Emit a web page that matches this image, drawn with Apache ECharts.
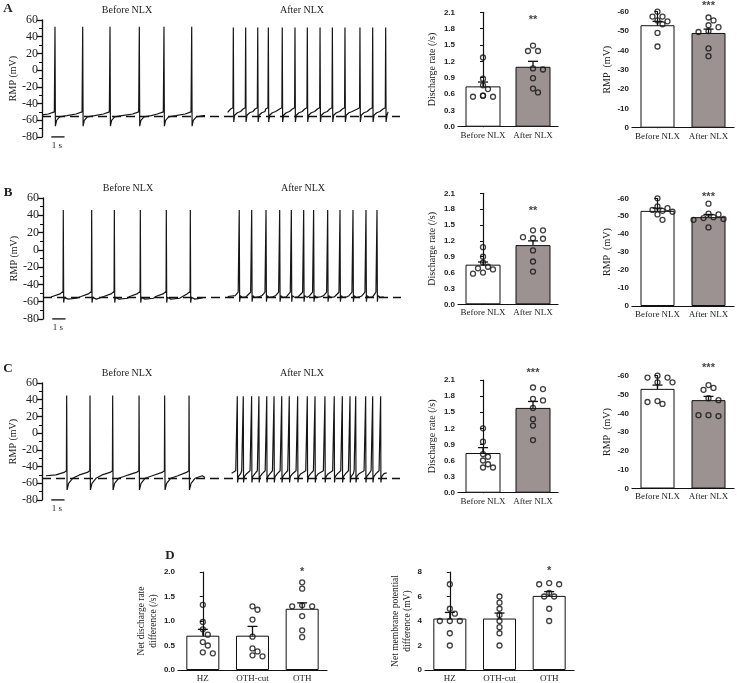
<!DOCTYPE html>
<html>
<head>
<meta charset="utf-8">
<script src="https://cdn.jsdelivr.net/npm/echarts@6/dist/echarts.min.js"></script>
<style>
  html, body { margin: 0; padding: 0; background: #fff; }
  #main { width: 737px; height: 683px; }
</style>
</head>
<body>
<div id="main"></div>
<script>
// ---------- recordings ----------
// spike times in seconds
const spikesA_before = [0.98, 3.07, 5.13, 7.34, 9.2, 11.29];
const spikesA_after = [14.43, 15.36, 16.27, 17.07, 18.12, 19.08, 20.01, 20.97, 21.9, 22.85, 23.98, 24.94, 25.92];
const spikesB_before = [1.53, 3.67, 5.38, 7.34, 9.3, 11.11];
const spikesB_after = [14.8, 15.74, 16.82, 17.85, 18.73, 19.66, 20.41, 21.47, 22.4, 23.38, 24.36, 25.19];
const spikesC_before = [1.86, 3.62, 5.33, 7.32, 9.25, 11.09];
const spikesC_after = [14.73, 15.18, 15.81, 16.36, 16.95, 17.5, 18.08, 18.65, 19.28, 20.01, 20.59,
  21.34, 22.04, 22.65, 23.23, 23.66, 24.41, 24.94, 25.54];

// recording window: [start s, end s, mV at start, mV at end]
const winA_before = [0, 12.3, -53.5, -54.5];
const winA_after = [14.0, 26.1, -50.5, -50];
const winB_before = [0.6, 12.04, -54.5, -55.5];
const winB_after = [13.93, 25.7, -54, -54.5];
const winC_before = [0.3, 12.3, -51, -53];
const winC_after = [14.3, 26.0, -48, -47.5];

// spike waveform: [time from spike s, mV]
const waveA_before = [[-0.5, -52.5], [-0.05, -50], [0, 52], [0.03, -67], [0.12, -60], [0.35, -56], [0.9, -54.5]];
const waveA_after = [[-0.2, -46.5], [-0.03, -45], [0, 51], [0.03, -62], [0.1, -54], [0.3, -51], [0.55, -49.5]];
const waveB_before = [[-0.8, -54], [-0.25, -51], [-0.02, -48], [0, 46], [0.03, -61], [0.08, -55], [0.35, -57], [1.0, -56]];
const waveB_after = [[-0.3, -53], [-0.08, -49], [0, 46], [0.03, -60], [0.08, -53], [0.25, -55], [0.5, -54.5]];
const waveC_before = [[-0.8, -50], [-0.2, -47], [-0.02, -45], [0, 45], [0.03, -68], [0.15, -60], [0.45, -54], [1.0, -51]];
const waveC_after = [[-0.12, -45], [-0.02, -44], [0, 44], [0.02, -59], [0.08, -52], [0.25, -48.5], [0.4, -47]];

const restLevel = [-55, -54.8, -53.6]; // dashed line, mV
const scaleBarSec = [0.7, 1.7];        // 1 s bar

// ---------- group data ----------
const groupsNLX = ['Before NLX', 'After NLX'];
const groupsD = ['HZ', 'OTH-cut', 'OTH'];

const rateA_mean = [0.74, 1.1], rateA_err = [0.82, 1.2];
const rateA_pts = [[1.27, 0.88, 0.76, 0.69, 0.57, 0.55, 0.55, 0.57], [1.49, 1.39, 1.39, 1.07, 1.05, 0.89, 0.7, 0.63]];
const rateA_sig = ['', '**'], rateA_sigAt = 1.96;
const rmpA_mean = [-53, -49], rmpA_err = [-55, -51];
const rmpA_pts = [[-60, -57.5, -57.5, -55.5, -55, -53.5, -49, -42], [-57, -55.5, -53, -52, -50, -49.5, -41, -37]];
const rmpA_sig = ['', '***'], rmpA_sigAt = -63;

const rateB_mean = [0.75, 1.12], rateB_err = [0.8, 1.2];
const rateB_pts = [[1.08, 0.9, 0.79, 0.71, 0.68, 0.66, 0.6, 0.58], [1.4, 1.4, 1.25, 1.24, 1.27, 1.02, 0.81, 0.62]];
const rateB_sig = ['', '**'], rateB_sigAt = 1.77;
const rmpB_mean = [-53, -49.5], rmpB_err = [-54.5, -51];
const rmpB_pts = [[-60, -55.5, -54.5, -53.5, -53, -52.5, -51, -48], [-57, -51.5, -51, -49.5, -49, -48.5, -48, -43.8]];
const rmpB_sig = ['', '***'], rmpB_sigAt = -61;

const rateC_mean = [0.74, 1.58], rateC_err = [0.84, 1.7];
const rateC_pts = [[1.2, 0.95, 0.72, 0.67, 0.6, 0.53, 0.47, 0.47], [1.96, 1.93, 1.75, 1.72, 1.58, 1.37, 1.25, 0.98]];
const rateC_sig = ['', '***'], rateC_sigAt = 2.24;
const rmpC_mean = [-53, -47], rmpC_err = [-55, -49];
const rmpC_pts = [[-60, -59, -59, -56.5, -56.5, -46.5, -45, -46], [-55, -53.5, -52.5, -48, -47, -39, -38.5, -39]];
const rmpC_sig = ['', '***'], rmpC_sigAt = -64;

const netRate_mean = [0.7, 0.7, 1.25], netRate_err = [0.83, 0.89, 1.37];
const netRate_pts = [[1.33, 0.98, 0.83, 0.72, 0.57, 0.5, 0.36, 0.34], [1.3, 1.23, 1.03, 0.68, 0.44, 0.38, 0.3, 0.28],
  [1.79, 1.66, 1.32, 1.3, 1.3, 1.1, 0.81, 0.67]];
const netRate_sig = ['', '', '*'], netRate_sigAt = 2.0;
const netRmp_mean = [4.2, 4.2, 6.05], netRmp_err = [4.7, 4.65, 6.4];
const netRmp_pts = [[7, 5, 4.6, 4, 4, 4, 3, 2], [6, 5.5, 5, 4.5, 4, 3.5, 3, 2], [7.1, 7, 7, 6.3, 6, 6, 5, 4]];
const netRmp_sig = ['', '', '*'], netRmp_sigAt = 8.1;

// ---------- builders ----------
const serif = 'Liberation Serif';
const sans = 'Liberation Sans';
const ink = '#111';
const grids = [], xAxes = [], yAxes = [], series = [], graphics = [];

function buildTrace(win, spikes, wave) {
  const pts = [[win[0], win[2]]];
  spikes.forEach((t, i) => {
    const next = i < spikes.length - 1 ? spikes[i + 1] : Infinity;
    wave.forEach(([dt, v]) => {
      const x = t + dt;
      if (dt > 0 && x >= next + wave[0][0]) return;
      if (x <= win[0] || x >= win[1]) return;
      pts.push([x, v]);
    });
  });
  pts.push([win[1], win[3]]);
  return pts;
}

function text(x, y, str, font, align) {
  graphics.push({ type: 'text', x, y, silent: true,
    style: { text: str, font, fill: '#222', textAlign: align || 'center', textVerticalAlign: 'middle' } });
}

function addTrace(t) {
  const gi = grids.length;
  grids.push({ left: t.left, top: t.top, width: 358, height: t.height });
  xAxes.push({ type: 'value', gridIndex: gi, min: 0, max: 27, show: false });
  yAxes.push({
    type: 'value', gridIndex: gi, min: -80, max: 60, interval: 20,
    name: 'RMP (mV)', nameLocation: 'middle', nameGap: 24,
    nameTextStyle: { fontFamily: serif, fontSize: 10, color: '#222' },
    axisLine: { show: true, lineStyle: { color: ink, width: 1.3 } },
    axisTick: { show: true, length: 5, lineStyle: { color: ink, width: 1.3 } },
    minorTick: { show: true, splitNumber: 2, length: 3, lineStyle: { color: ink, width: 1 } },
    splitLine: { show: false },
    axisLabel: { fontFamily: serif, fontSize: 12, color: '#222', margin: 4 }
  });
  t.segments.forEach((seg, k) => {
    series.push({
      type: 'line', xAxisIndex: gi, yAxisIndex: gi, data: buildTrace(seg[0], seg[1], seg[2]),
      showSymbol: false, symbol: 'none', silent: true, animation: false,
      lineStyle: { color: '#161616', width: 1.2 },
      markLine: k === 0 ? {
        silent: true, symbol: 'none', label: { show: false }, animation: false,
        lineStyle: { color: ink, width: 1.4, type: [9, 5] },
        data: [{ yAxis: t.rest }]
      } : undefined
    });
  });
  series.push({
    type: 'line', xAxisIndex: gi, yAxisIndex: gi, data: scaleBarSec.map(s => [s, -80]),
    showSymbol: false, symbol: 'none', silent: true, animation: false, lineStyle: { color: ink, width: 1.6 }
  });
  text(t.left + 85, t.top - 10, 'Before NLX', '10px ' + serif);
  text(t.left + 260, t.top - 10, 'After NLX', '10px ' + serif);
  text(t.left + 15, t.top + t.height + 9, '1 s', '9px ' + serif);
}

// spread overlapping dots sideways (pixel units)
function swarm(vals, pxPerUnit) {
  const placed = [];
  return vals.map(v => {
    const y = v * pxPerUnit;
    for (const dx of [0, 5, -5, 10, -10, 15, -15]) {
      if (placed.every(q => Math.hypot(q[0] - dx, q[1] - y) >= 5.5)) { placed.push([dx, y]); return dx; }
    }
    placed.push([0, y]);
    return 0;
  });
}

function addBars(p) {
  const gi = grids.length;
  grids.push({ left: p.left, top: p.top, width: p.width, height: p.height });
  const xi = xAxes.length;
  xAxes.push({
    type: 'category', gridIndex: gi, data: p.cats,
    axisLine: { lineStyle: { color: ink, width: 1.2 } },
    axisTick: { alignWithLabel: true, length: 3, lineStyle: { color: ink } },
    axisLabel: { interval: 0, hideOverlap: false, fontFamily: serif, fontSize: p.catFont, color: '#222', margin: 4 }
  });
  xAxes.push({ type: 'value', gridIndex: gi, min: -0.5, max: p.cats.length - 0.5, show: false });
  const yi = yAxes.length;
  yAxes.push({
    type: 'value', gridIndex: gi, min: p.min, max: p.max, interval: p.step, inverse: !!p.inverse,
    name: p.name, nameLocation: 'middle', nameGap: p.nameGap,
    nameTextStyle: { fontFamily: serif, fontSize: p.nameFont || 10, color: '#222', lineHeight: 12 },
    axisLine: { show: true, lineStyle: { color: ink, width: 1.2 } },
    axisTick: { show: true, length: 3, lineStyle: { color: ink } },
    splitLine: { show: false },
    axisLabel: { fontFamily: sans, fontWeight: 'bold', fontSize: 8, color: '#222', margin: 3, formatter: p.fmt }
  });
  series.push({
    type: 'bar', xAxisIndex: xi, yAxisIndex: yi, barWidth: p.barWidth, silent: true, animation: false,
    data: p.mean.map((m, i) => ({ value: m, itemStyle: { color: p.fills[i], borderColor: ink, borderWidth: 1 } }))
  });
  series.push({
    type: 'custom', xAxisIndex: xi + 1, yAxisIndex: yi, silent: true, z: 4, animation: false,
    data: p.mean.map((m, i) => [i, m, p.err[i]]),
    renderItem: (params, api) => {
      const a = api.coord([api.value(0), api.value(1)]);
      const b = api.coord([api.value(0), api.value(2)]);
      const st = { stroke: ink, lineWidth: 1.3 };
      return {
        type: 'group', children: [
          { type: 'line', shape: { x1: a[0], y1: a[1], x2: b[0], y2: b[1] }, style: st },
          { type: 'line', shape: { x1: b[0] - 5, y1: b[1], x2: b[0] + 5, y2: b[1] }, style: st }
        ]
      };
    }
  });
  const pxPerUnit = p.height / (p.max - p.min);
  const band = p.width / p.cats.length;
  const dots = [];
  p.pts.forEach((vals, i) => {
    const off = swarm(vals, pxPerUnit);
    vals.forEach((v, k) => dots.push([i + off[k] / band, v]));
  });
  series.push({
    type: 'scatter', xAxisIndex: xi + 1, yAxisIndex: yi, silent: true, z: 5, clip: false, animation: false,
    symbol: 'circle', symbolSize: 5, data: dots,
    itemStyle: { color: 'rgba(255,255,255,0)', borderColor: ink, borderWidth: 1.3 }
  });
  series.push({
    type: 'scatter', xAxisIndex: xi + 1, yAxisIndex: yi, silent: true, z: 6, clip: false, animation: false,
    symbolSize: 1, itemStyle: { color: 'rgba(0,0,0,0)' },
    data: p.sig.map((s, i) => ({ value: [i, p.sigAt], s })).filter(d => d.s),
    label: {
      show: true, position: 'inside', formatter: d => d.data.s,
      fontFamily: sans, fontWeight: 'bold', fontSize: 11, color: ink
    }
  });
}

const white = '#ffffff', mauve = '#9d9292';
const fmt1 = v => v.toFixed(1);
const fmtInt = v => String(v);

// ---------- panels ----------
addTrace({ left: 42, top: 20, height: 117, rest: restLevel[0],
  segments: [[winA_before, spikesA_before, waveA_before], [winA_after, spikesA_after, waveA_after]] });
addTrace({ left: 43, top: 198, height: 121, rest: restLevel[1],
  segments: [[winB_before, spikesB_before, waveB_before], [winB_after, spikesB_after, waveB_after]] });
addTrace({ left: 42, top: 383, height: 117, rest: restLevel[2],
  segments: [[winC_before, spikesC_before, waveC_before], [winC_after, spikesC_after, waveC_after]] });

const rateBase = { cats: groupsNLX, left: 458, width: 100, min: 0, max: 2.1, step: 0.3, name: 'Discharge rate (/s)',
  nameGap: 20, fmt: fmt1, barWidth: 35, catFont: 9, fills: [white, mauve] };
const rmpBase = { cats: groupsNLX, left: 632, width: 102, min: -60, max: 0, step: 10, inverse: true, name: 'RMP  (mV)',
  nameGap: 19, fmt: fmtInt, barWidth: 34, catFont: 9, fills: [white, mauve] };
const dBase = { cats: groupsD, width: 149, top: 572, height: 99, barWidth: 33, catFont: 9,
  fills: [white, white, white], nameFont: 9.5 };

function panel(base, o) { addBars(Object.assign({}, base, o)); }

panel(rateBase, { top: 12.3, height: 114.4, mean: rateA_mean, err: rateA_err, pts: rateA_pts, sig: rateA_sig, sigAt: rateA_sigAt });
panel(rmpBase, { top: 11.7, height: 116, mean: rmpA_mean, err: rmpA_err, pts: rmpA_pts, sig: rmpA_sig, sigAt: rmpA_sigAt });
panel(rateBase, { top: 193.3, height: 111, mean: rateB_mean, err: rateB_err, pts: rateB_pts, sig: rateB_sig, sigAt: rateB_sigAt });
panel(rmpBase, { top: 198.3, height: 107.7, mean: rmpB_mean, err: rmpB_err, pts: rmpB_pts, sig: rmpB_sig, sigAt: rmpB_sigAt });
panel(rateBase, { top: 380, height: 112.7, mean: rateC_mean, err: rateC_err, pts: rateC_pts, sig: rateC_sig, sigAt: rateC_sigAt });
panel(rmpBase, { top: 375.7, height: 112.8, mean: rmpC_mean, err: rmpC_err, pts: rmpC_pts, sig: rmpC_sig, sigAt: rmpC_sigAt });
panel(dBase, { left: 178, min: 0, max: 2, step: 0.5, fmt: fmt1, name: 'Net discharge rate\ndifference (/s)', nameGap: 18,
  mean: netRate_mean, err: netRate_err, pts: netRate_pts, sig: netRate_sig, sigAt: netRate_sigAt });
panel(dBase, { left: 425, min: 0, max: 8, step: 2, fmt: fmtInt, name: 'Net membrane potential\ndifference (mV)', nameGap: 12,
  mean: netRmp_mean, err: netRmp_err, pts: netRmp_pts, sig: netRmp_sig, sigAt: netRmp_sigAt });

// panel letters
text(8, 9, 'A', 'bold 13px ' + serif);
text(8, 193, 'B', 'bold 13px ' + serif);
text(8, 369, 'C', 'bold 13px ' + serif);
text(170, 556, 'D', 'bold 13px ' + serif);

const chart = echarts.init(document.getElementById('main'), null, { renderer: 'canvas' });
chart.setOption({
  animation: false,
  backgroundColor: '#fff',
  grid: grids,
  xAxis: xAxes,
  yAxis: yAxes,
  series: series,
  graphic: graphics
});
</script>
</body>
</html>
